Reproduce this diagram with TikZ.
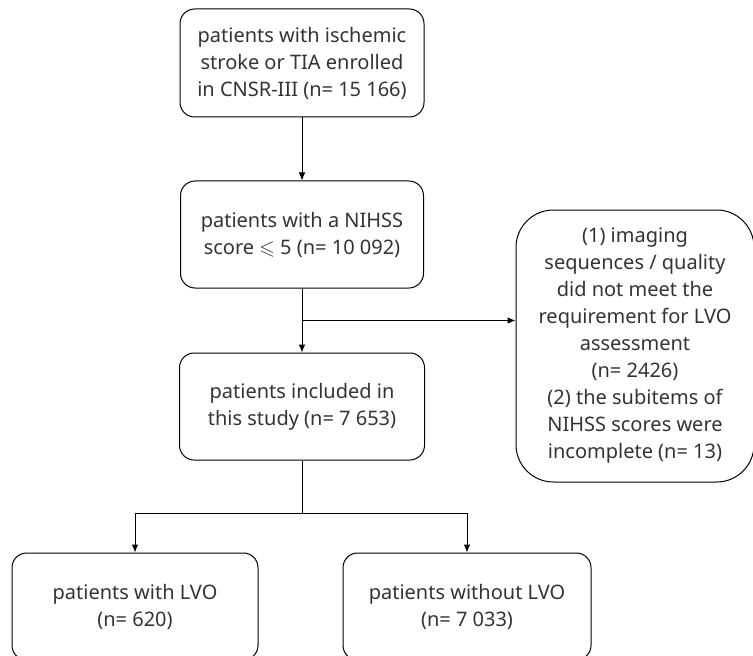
\documentclass[tikz,border=0pt]{standalone}
\usepackage{amssymb}
\usepackage{fontspec}
\setmainfont{Noto Sans}
\usetikzlibrary{calc}
\usetikzlibrary{arrows.meta}
\tikzset{box/.style={draw,line width=0.75pt,rounded corners=11pt,inner sep=0pt,align=center,
	text=black!80,font=\fontsize{15}{20.25}\selectfont}}

\begin{document}
\begin{tikzpicture}[x=0.75pt,y=-0.75pt,>={Latex[length=6pt,width=5pt]},line width=0.75pt]
					\clip (0,0) rectangle (753,656);
					\node[box,minimum width=183pt,minimum height=81pt] (enrol) at (302,63) {patients with ischemic\\stroke or TIA enrolled\\in CNSR-III (n= 15 166)};
					\node[box,minimum width=182.25pt,minimum height=80.25pt] (nihss) at (302,234.5) {patients with a NIHSS\\score $\leqslant$ 5 (n= 10 092)};
					\node[box,minimum width=183.75pt,minimum height=80.25pt] (incl) at (302,406.5) {patients included in\\this study (n= 7 653)};
					\node[box,rounded corners=28pt,minimum width=178.5pt,minimum height=204pt] (excl) at (635,346) {(1) imaging\\sequences / quality\\did not meet the\\requirement for LVO\\assessment\\(n= 2426)\\(2) the subitems of\\NIHSS scores were\\incomplete (n= 13)};
					\node[box,minimum width=184.5pt,minimum height=80.25pt] (lvo) at (135,606.5) {patients with LVO\\(n= 620)};
					\node[box,minimum width=186pt,minimum height=80.25pt] (nolvo) at (467,606.5) {patients without LVO\\(n= 7 033)};
					\coordinate (split) at ($(nihss.south)!0.5!(incl.north)$);
					\coordinate (fork) at ($(incl.south)+(0,53)$);
					\draw[->] (enrol) -- (nihss);
					\draw[->] (nihss) -- (incl);
					\draw[->] (split) -- (split -| excl.west);
					\draw (incl) -- (fork);
					\draw[->] (fork) -| (lvo);
					\draw[->] (fork) -| (nolvo);
				\end{tikzpicture}
\end{document}
